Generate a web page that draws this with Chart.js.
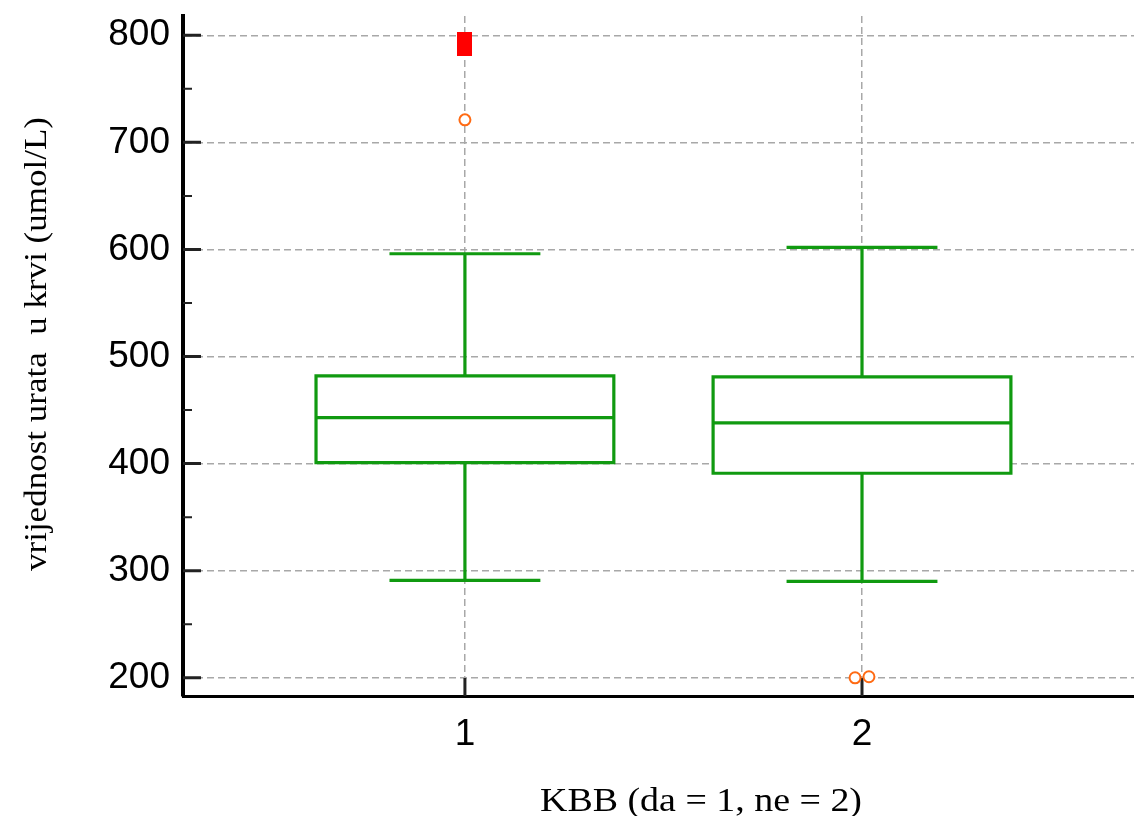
<!DOCTYPE html>
<html>
<head>
<meta charset="utf-8">
<script src="https://cdn.jsdelivr.net/npm/chart.js@4.4.1/dist/chart.umd.min.js"></script>
<style>
  html, body { margin: 0; padding: 0; background: #fff; }
</style>
</head>
<body>
<canvas id="myChart" width="1134" height="816"></canvas>
<script>
// groups on the x axis
const categories = [1, 2];

// box plot summary per group (umol/L)
const whiskerLow = [291, 290];
const q1 = [401, 391];
const median = [443, 438];
const q3 = [482, 481];
const whiskerHigh = [596, 602];

// outside values (orange circles) and far out values (red square)
const outsideValues = [[721], [200, 201]];
const farOutValues = [[792], []];

// tick labels
const yTicks = [200, 300, 400, 500, 600, 700, 800];
const yMinorTicks = [250, 350, 450, 550, 650, 750];

const yTitle = 'vrijednost urata  u krvi (umol/L)';
const xTitle = 'KBB (da = 1, ne = 2)';

const green = '#109a10';
const orange = '#ff6a13';
const boxHalf = 0.375;
const capHalf = 0.19;

// red rectangle used as point style for far out values
const farMark = document.createElement('canvas');
farMark.width = 15;
farMark.height = 24;
const fctx = farMark.getContext('2d');
fctx.fillStyle = '#ff0000';
fctx.fillRect(0, 0, 15, 24);

// whiskers, caps and medians as broken line segments
const segments = [];
categories.forEach((c, i) => {
    segments.push({x: c - boxHalf, y: median[i]}, {x: c + boxHalf, y: median[i]}, {x: c, y: null});
    segments.push({x: c, y: q3[i]}, {x: c, y: whiskerHigh[i]}, {x: c, y: null});
    segments.push({x: c - capHalf, y: whiskerHigh[i]}, {x: c + capHalf, y: whiskerHigh[i]}, {x: c, y: null});
    segments.push({x: c, y: q1[i]}, {x: c, y: whiskerLow[i]}, {x: c, y: null});
    segments.push({x: c - capHalf, y: whiskerLow[i]}, {x: c + capHalf, y: whiskerLow[i]}, {x: c, y: null});
});

// spread points of one group slightly so equal values stay visible
function spread(groups) {
    const pts = [];
    groups.forEach((vals, i) => {
        vals.forEach((v, k) => {
            pts.push({x: categories[i] + (k - (vals.length - 1) / 2) * 0.035, y: v});
        });
    });
    return pts;
}

const boxDatasets = categories.map((c, i) => ({
    data: [
        {x: c - boxHalf, y: q1[i]}, {x: c + boxHalf, y: q1[i]},
        {x: c + boxHalf, y: q3[i]}, {x: c - boxHalf, y: q3[i]},
        {x: c - boxHalf, y: q1[i]}
    ],
    borderColor: green,
    borderWidth: 3.2,
    borderJoinStyle: 'miter',
    borderCapStyle: 'square',
    backgroundColor: '#ffffff',
    fill: 'shape',
    pointRadius: 0,
    tension: 0
}));

// inner tick marks on both axes
const innerTicks = {
    id: 'innerTicks',
    beforeDatasetsDraw(chart) {
        const {ctx, chartArea, scales: {x, y}} = chart;
        ctx.save();
        ctx.strokeStyle = '#222';
        ctx.lineWidth = 3;
        ctx.beginPath();
        yTicks.forEach(v => {
            const py = y.getPixelForValue(v);
            ctx.moveTo(chartArea.left, py);
            ctx.lineTo(chartArea.left + 18, py);
        });
        categories.forEach(c => {
            const px = x.getPixelForValue(c);
            ctx.moveTo(px, chartArea.bottom);
            ctx.lineTo(px, chartArea.bottom - 18);
        });
        ctx.stroke();
        ctx.lineWidth = 2;
        ctx.beginPath();
        yMinorTicks.forEach(v => {
            const py = y.getPixelForValue(v);
            ctx.moveTo(chartArea.left, py);
            ctx.lineTo(chartArea.left + 9, py);
        });
        ctx.stroke();
        ctx.restore();
    }
};

// axis titles, stretched a little like the original
const axisTitles = {
    id: 'axisTitles',
    afterDraw(chart) {
        const ctx = chart.ctx;
        ctx.save();
        ctx.fillStyle = '#000';
        ctx.textAlign = 'center';
        ctx.textBaseline = 'alphabetic';
        ctx.font = '31px "Liberation Serif"';
        ctx.translate(46, 344);
        ctx.rotate(-Math.PI / 2);
        ctx.scale(454 / ctx.measureText(yTitle).width, 1);
        ctx.fillText(yTitle, 0, 0);
        ctx.restore();

        ctx.save();
        ctx.fillStyle = '#000';
        ctx.textAlign = 'center';
        ctx.textBaseline = 'alphabetic';
        ctx.font = '34px "Liberation Serif"';
        ctx.translate(701, 811);
        ctx.scale(322 / ctx.measureText(xTitle).width, 1);
        ctx.fillText(xTitle, 0, 0);
        ctx.restore();
    }
};

const ctx = document.getElementById('myChart').getContext('2d');
const chart = new Chart(ctx, {
    type: 'line',
    data: {
        datasets: [
            {
                data: spread(farOutValues),
                showLine: false,
                pointStyle: farMark,
                pointRadius: 8
            },
            {
                data: spread(outsideValues),
                showLine: false,
                pointStyle: 'circle',
                pointRadius: 5.5,
                pointBorderWidth: 2,
                pointBorderColor: orange,
                pointBackgroundColor: '#ffffff'
            },
            {
                data: segments,
                borderColor: green,
                borderWidth: 3.2,
                borderCapStyle: 'butt',
                pointRadius: 0,
                spanGaps: false,
                fill: false
            },
            ...boxDatasets
        ]
    },
    options: {
        responsive: false,
        animation: false,
        events: [],
        layout: { autoPadding: false, padding: { top: 16, left: 0, right: 0, bottom: 0 } },
        plugins: {
            legend: { display: false },
            tooltip: { enabled: false }
        },
        scales: {
            x: {
                type: 'linear',
                min: 0.29,
                max: 2.685,
                afterBuildTicks: axis => { axis.ticks = categories.map(v => ({value: v})); },
                afterFit: axis => {
                    axis.height = 120;
                    axis.paddingLeft = 0;
                    axis.paddingRight = 0;
                },
                grid: { color: '#a8a8a8', lineWidth: 1.5, drawTicks: false },
                border: { display: true, color: '#000', width: 3, dash: [7, 4] },
                ticks: {
                    color: '#000',
                    padding: 17,
                    font: { family: '"Liberation Sans", Arial', size: 37 },
                    callback: v => String(v)
                }
            },
            y: {
                type: 'linear',
                min: 183,
                max: 818,
                afterBuildTicks: axis => { axis.ticks = yTicks.map(v => ({value: v})); },
                afterFit: axis => {
                    axis.width = 183;
                    axis.paddingTop = 0;
                    axis.paddingBottom = 0;
                },
                grid: { color: '#a8a8a8', lineWidth: 1.5, drawTicks: false },
                border: { display: true, color: '#000', width: 4, dash: [7, 4] },
                ticks: {
                    color: '#000',
                    padding: 13,
                    font: { family: '"Liberation Sans", Arial', size: 37 },
                    callback: v => String(v)
                }
            }
        }
    },
    plugins: [innerTicks, axisTitles]
});
</script>
</body>
</html>
